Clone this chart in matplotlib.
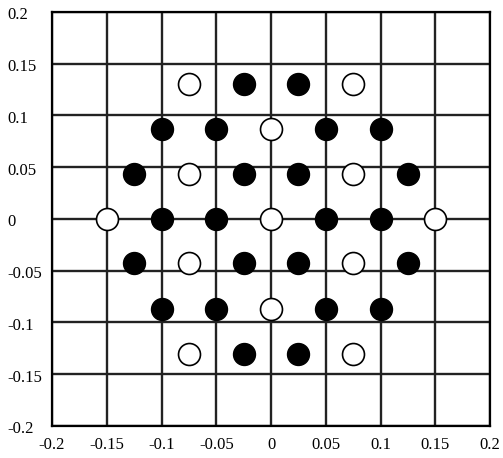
import matplotlib
matplotlib.use("Agg")
import matplotlib.pyplot as plt
import matplotlib.transforms as mtransforms

# Points (hexagonal pattern)
filled_x = [-0.025, 0.025,
            -0.1, -0.05, 0.05, 0.1,
            -0.125, -0.025, 0.025, 0.125,
            -0.1, -0.05, 0.05, 0.1,
            -0.125, -0.025, 0.025, 0.125,
            -0.1, -0.05, 0.05, 0.1,
            -0.025, 0.025]
filled_y = [0.13, 0.13,
            0.087, 0.087, 0.087, 0.087,
            0.043, 0.043, 0.043, 0.043,
            0, 0, 0, 0,
            -0.043, -0.043, -0.043, -0.043,
            -0.087, -0.087, -0.087, -0.087,
            -0.13, -0.13]

open_x = [-0.075, 0.075,
          0,
          -0.075, 0.075,
          -0.15, 0, 0.15,
          -0.075, 0.075,
          0,
          -0.075, 0.075]
open_y = [0.13, 0.13,
          0.087,
          0.043, 0.043,
          0, 0, 0,
          -0.043, -0.043,
          -0.087,
          -0.13, -0.13]

ticks = [-0.2, -0.15, -0.1, -0.05, 0, 0.05, 0.1, 0.15, 0.2]
tick_labels = ["-0.2", "-0.15", "-0.1", "-0.05", "0", "0.05", "0.1", "0.15", "0.2"]

plt.rcParams['font.family'] = ['Liberation Serif', 'DejaVu Serif']

fig = plt.figure(figsize=(5.03, 4.58), dpi=100)
ax = fig.add_axes([0.1034, 0.0699, 0.8708, 0.9039])

ax.set_xlim(-0.2, 0.2)
ax.set_ylim(-0.2, 0.2)
ax.set_xticks(ticks)
ax.set_yticks(ticks)
ax.set_xticklabels(tick_labels, fontsize=12)
ax.set_yticklabels(tick_labels, fontsize=12)
ax.tick_params(length=0)
ax.tick_params(axis='x', pad=8)
ax.tick_params(axis='y', pad=32)
for lbl in ax.get_yticklabels():
    lbl.set_horizontalalignment('left')
    lbl.set_transform(lbl.get_transform() +
                      mtransforms.ScaledTranslation(0, -1 / 72, fig.dpi_scale_trans))

ax.grid(True, color='#222222', linewidth=1.7)
ax.set_axisbelow(True)
for sp in ax.spines.values():
    sp.set_linewidth(1.6)
    sp.set_color('black')

ax.scatter(filled_x, filled_y, s=250, c='black', edgecolors='black', linewidths=1, zorder=3)
ax.scatter(open_x, open_y, s=250, c='white', edgecolors='black', linewidths=1.2, zorder=3)

fig.savefig("out.png", dpi=100)
